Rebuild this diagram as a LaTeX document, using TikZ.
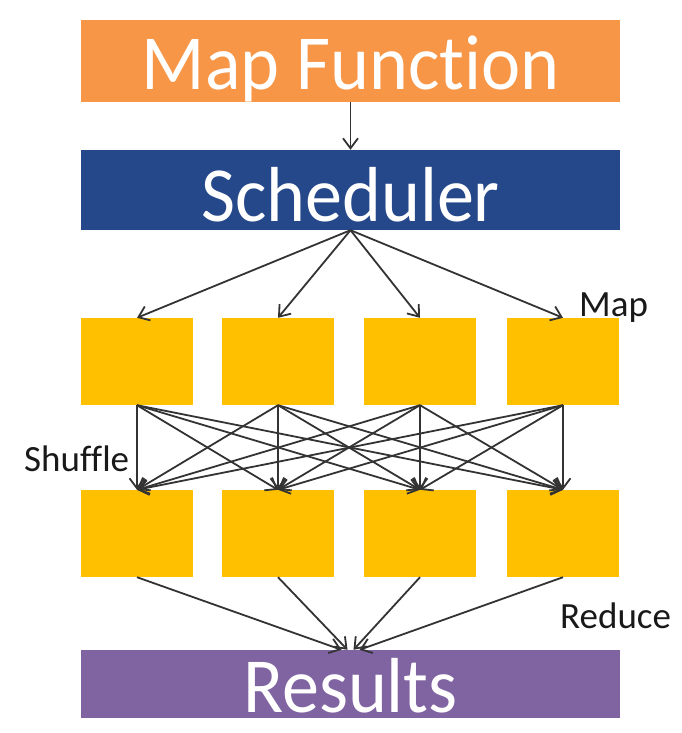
\documentclass[tikz,border=0pt]{standalone}
\usepackage{fontspec}
\setmainfont{Carlito}[RawFeature={-liga;-clig;-calt}]
\newfontfamily\boxfont{Carlito}[RawFeature={-liga;-clig;-calt},FakeStretch=0.95]
\usetikzlibrary{arrows.meta}
\definecolor{mapfun}{HTML}{F79646}
\definecolor{sched}{HTML}{24488A}
\definecolor{task}{HTML}{FFC000}
\definecolor{result}{HTML}{8064A2}
\definecolor{wirec}{HTML}{333333}
\begin{document}
\begin{tikzpicture}
		[x=1pt,y=-1pt,
		bigbox/.style={rectangle,inner sep=0pt,minimum width=539pt,minimum height=#1,text=white,text depth=0pt,font=\boxfont\fontsize{78}{84}\selectfont},
		taskbox/.style={rectangle,fill=task,inner sep=0pt,minimum width=112pt,minimum height=87pt},
		wire/.style={draw=wirec,line width=1.8pt,-{Straight Barb[length=10pt,width=15pt]}},
		tag/.style={font=\fontsize{37}{40}\selectfont,text=black!90,inner sep=0pt,anchor=base west}]
		\useasboundingbox (0,0) rectangle (681,733);
		\node[bigbox=82pt,fill=mapfun,text height=58pt,name=mapf] at (350.5,61) {Map Function};
		\node[bigbox=80pt,fill=sched,text height=62pt,name=sched] at (350.5,190) {Scheduler};
		\node[bigbox=68pt,fill=result,text height=56pt,name=res] at (350.5,684) {Results};
		\foreach \i/\x in {1/137,2/278,3/420,4/563}
		{
			\node[taskbox,name=m\i] at (\x,361.5) {};
			\node[taskbox,name=r\i] at (\x,533.5) {};
		}
		\draw[wire] (mapf) -- (sched);
		\foreach \i in {1,...,4}
		{
			\draw[wire] (sched.south) -- (m\i.north);
			\foreach \j in {1,...,4}
			{
				\draw[wire] (m\i.south) -- (r\j.north);
			}
		}
		\foreach \i/\d in {1/-9,2/-3,3/3,4/9}
		{
			\draw[wire] (r\i.south) -- ([xshift=\d pt]res.north);
		}
		\node[tag,name=maptag] at (579,316) {Map};
		\node[tag,name=shuffletag] at (24,471) {Shuffle};
		\node[tag,name=reducetag] at (560,628) {Reduce};
	\end{tikzpicture}
\end{document}
